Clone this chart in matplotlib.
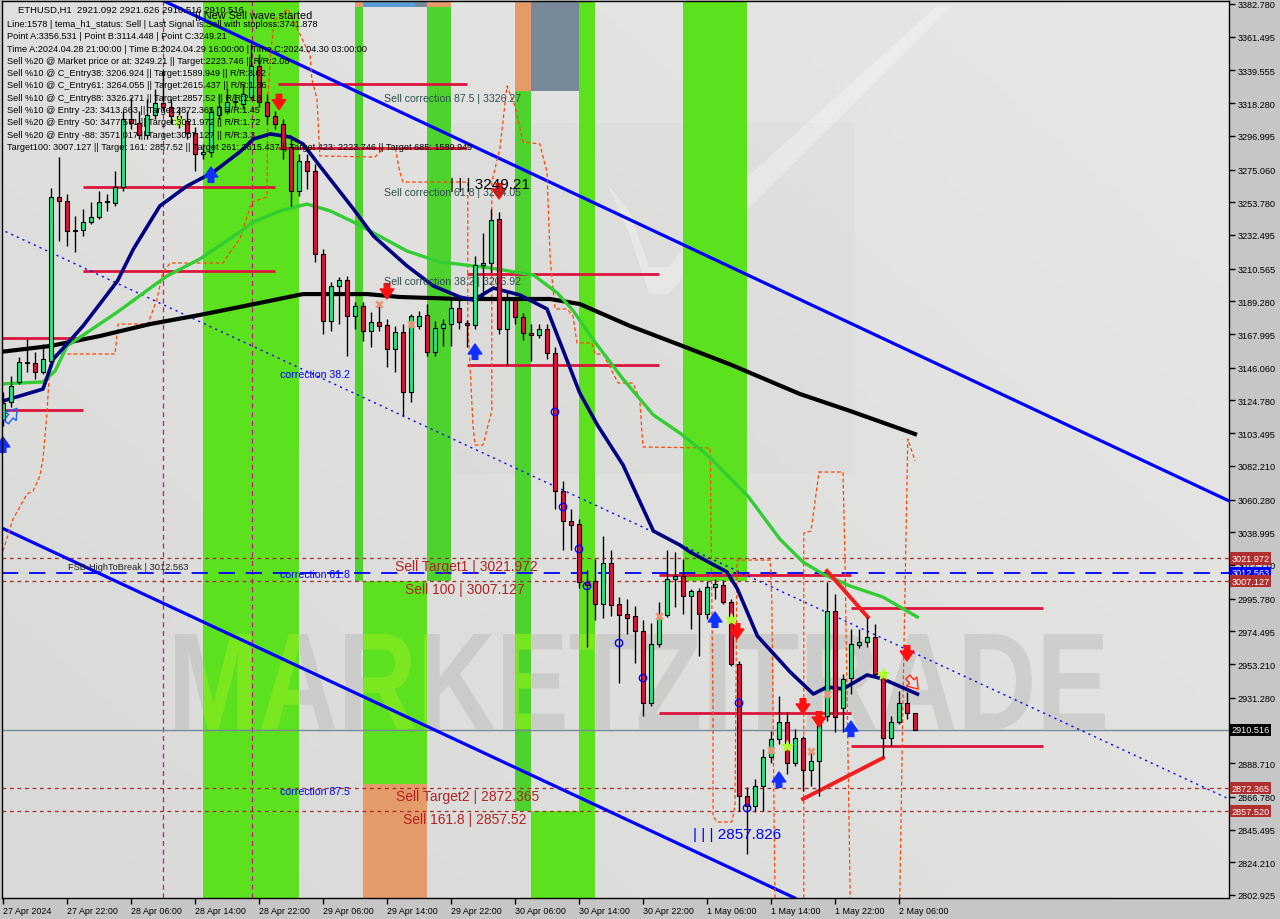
import numpy as np
import matplotlib
matplotlib.use('Agg')
import matplotlib.pyplot as plt
from matplotlib.patches import Rectangle, PathPatch, Polygon
from matplotlib.textpath import TextPath
from matplotlib.font_manager import FontProperties
from matplotlib.colors import LinearSegmentedColormap
import matplotlib.transforms as mtransforms

# ETHUSD H1 candles, first bar = 27 Apr 2024 14:00
opens = [3112.0, 3123.8, 3136.8, 3149.1, 3149.1, 3143.3, 3150.4, 3257.2, 3254.6, 3235.0,
         3235.7, 3240.9, 3244.2, 3253.9, 3253.3, 3263.7, 3307.9, 3305.3, 3297.5, 3310.5,
         3318.4, 3315.8, 3309.9, 3306.6, 3298.8, 3285.2, 3286.5, 3310.5, 3313.1, 3319.0,
         3317.7, 3322.3, 3342.4, 3319.0, 3309.9, 3304.7, 3289.7, 3261.1, 3280.6, 3274.1,
         3220.1, 3176.5, 3199.3, 3203.2, 3179.7, 3186.2, 3170.0, 3175.8, 3173.9, 3158.3,
         3169.3, 3130.3, 3173.2, 3180.4, 3156.3, 3171.9, 3174.5, 3184.9, 3175.2, 3173.9,
         3212.9, 3214.2, 3242.9, 3171.3, 3190.1, 3179.1, 3168.7, 3167.4, 3171.3, 3155.7,
         3065.9, 3046.3, 3044.4, 3006.6, 3007.3, 2992.3, 3019.0, 2992.3, 2985.8, 2984.5,
         2974.7, 2927.9, 2966.3, 2985.1, 3008.6, 3010.5, 2997.5, 3000.8, 2985.8, 3003.4,
         3004.7, 2993.6, 2953.2, 2867.3, 2860.9, 2873.9, 2892.7, 2904.4, 2915.5, 2888.8,
         2905.1, 2884.3, 2890.1, 2919.4, 2987.7, 2924.6, 2944.2, 2965.6, 2967.6, 2970.8,
         2946.7, 2905.1, 2915.5, 2927.9, 2921.1]
highs = [3130.0, 3140.7, 3153.0, 3164.8, 3156.3, 3161.5, 3263.0, 3283.2, 3259.1, 3244.8,
         3249.4, 3253.9, 3261.1, 3259.1, 3274.1, 3313.1, 3322.3, 3313.1, 3321.0, 3327.5,
         3340.5, 3321.0, 3316.0, 3313.1, 3302.7, 3291.7, 3315.8, 3324.2, 3327.5, 3324.2,
         3330.7, 3356.5, 3350.0, 3324.2, 3313.1, 3307.9, 3294.9, 3285.2, 3285.2, 3278.6,
         3223.3, 3201.9, 3205.1, 3205.8, 3188.8, 3188.8, 3182.3, 3186.2, 3177.8, 3173.2,
         3174.5, 3181.0, 3182.9, 3187.5, 3176.5, 3177.8, 3192.1, 3190.8, 3177.1, 3218.8,
         3233.7, 3249.2, 3247.4, 3194.7, 3192.1, 3181.7, 3174.5, 3174.5, 3174.5, 3159.6,
         3072.4, 3054.1, 3047.6, 3014.4, 3021.6, 3036.6, 3027.4, 2996.8, 2995.5, 2991.0,
         2981.9, 2980.0, 2993.6, 3027.4, 3026.1, 3021.6, 3002.0, 3002.7, 3007.3, 3008.6,
         3008.0, 2995.5, 2955.2, 2873.2, 2878.4, 2897.9, 2909.7, 2932.4, 2922.0, 2910.9,
         2906.4, 2896.0, 2917.4, 3006.6, 2998.8, 2947.0, 2976.0, 2976.0, 2983.8, 2979.3,
         2948.0, 2919.4, 2935.7, 2935.1, 2921.6]
lows = [3108.0, 3120.5, 3135.5, 3143.3, 3138.7, 3142.0, 3148.5, 3228.5, 3225.3, 3221.4,
        3231.8, 3239.6, 3242.9, 3248.1, 3251.3, 3261.1, 3301.4, 3294.9, 3294.9, 3307.9,
        3313.1, 3304.7, 3302.0, 3294.9, 3274.1, 3281.9, 3283.2, 3307.9, 3311.2, 3315.8,
        3314.5, 3321.0, 3315.8, 3304.7, 3301.4, 3281.9, 3251.3, 3257.8, 3262.4, 3214.9,
        3168.0, 3170.0, 3174.5, 3153.7, 3171.3, 3163.5, 3159.6, 3170.0, 3146.5, 3143.3,
        3114.4, 3123.8, 3171.3, 3153.7, 3153.7, 3160.2, 3160.2, 3171.3, 3159.6, 3171.3,
        3190.8, 3208.0, 3168.0, 3147.8, 3174.5, 3164.1, 3150.4, 3165.4, 3151.7, 3054.1,
        3027.4, 3027.4, 3002.7, 2964.3, 2981.9, 2983.2, 2984.5, 2940.9, 2972.8, 2953.9,
        2919.4, 2925.9, 2964.3, 2984.0, 2990.4, 2985.8, 2976.0, 2958.5, 2982.5, 2995.5,
        2992.3, 2951.9, 2857.6, 2829.6, 2856.9, 2857.6, 2889.0, 2901.0, 2881.7, 2886.8,
        2870.6, 2874.0, 2867.3, 2916.1, 2908.9, 2908.9, 2933.7, 2963.7, 2964.3, 2945.4,
        2892.7, 2900.0, 2914.2, 2917.4, 2910.5]
closes = [3123.0, 3134.2, 3149.8, 3149.8, 3143.3, 3151.7, 3257.2, 3254.6, 3235.0, 3235.7,
          3240.9, 3244.2, 3253.9, 3254.6, 3263.7, 3307.9, 3305.3, 3297.5, 3310.5, 3318.4,
          3315.8, 3309.9, 3306.6, 3298.8, 3285.2, 3286.5, 3312.5, 3315.8, 3319.0, 3319.7,
          3324.2, 3342.4, 3319.0, 3309.9, 3304.7, 3288.4, 3261.1, 3280.6, 3274.1, 3220.1,
          3176.5, 3199.3, 3203.2, 3179.7, 3186.2, 3170.0, 3175.8, 3173.2, 3158.3, 3169.3,
          3130.3, 3179.7, 3179.7, 3156.3, 3171.9, 3174.5, 3184.9, 3175.8, 3173.9, 3212.9,
          3214.2, 3242.2, 3171.3, 3190.1, 3179.1, 3168.7, 3167.4, 3171.3, 3155.7, 3065.9,
          3046.3, 3043.7, 3006.6, 3004.7, 2992.3, 3019.0, 2991.7, 2985.1, 2983.2, 2974.7,
          2927.9, 2966.3, 2983.2, 3008.6, 3010.5, 2997.5, 3000.8, 2985.8, 3003.4, 3005.3,
          2993.6, 2953.2, 2867.3, 2860.8, 2873.9, 2892.7, 2904.4, 2915.5, 2888.8, 2905.1,
          2884.3, 2890.1, 2914.2, 2987.7, 2918.7, 2943.5, 2966.3, 2967.6, 2970.8, 2946.7,
          2905.1, 2915.5, 2927.9, 2921.4, 2910.516]

tick_idx = list(range(0, 113, 8))
tick_labels = ['27 Apr 2024', '27 Apr 22:00', '28 Apr 06:00', '28 Apr 14:00', '28 Apr 22:00',
               '29 Apr 06:00', '29 Apr 14:00', '29 Apr 22:00', '30 Apr 06:00', '30 Apr 14:00',
               '30 Apr 22:00', '1 May 06:00', '1 May 14:00', '1 May 22:00', '2 May 06:00']
price_ticks = [3382.780, 3361.495, 3339.555, 3318.280, 3296.995, 3275.060, 3253.780, 3232.495,
               3210.565, 3189.280, 3167.995, 3146.060, 3124.780, 3103.495, 3082.210, 3060.280,
               3038.995, 3017.710, 2995.780, 2974.495, 2953.210, 2931.280, 2888.710, 2866.780,
               2845.495, 2824.210, 2802.925]

# moving averages, read at bar positions
black_ma_x = [-0.4, 5.9, 12.1, 18.4, 24.6, 29.6, 37.5, 45.5, 49.6, 57.1, 68.4, 72.1, 78.4, 84.6, 91.0,
              99.6, 105.9, 114]
black_ma_y = [3156.3, 3160.2, 3166.7, 3174.5, 3180.4, 3185.6, 3194.0, 3194.0, 3192.1, 3190.8, 3190.8, 3187.5,
              3173.2, 3160.9, 3148.0, 3129.0, 3117.9, 3102.9]
green_ma_x = [-0.4, 5, 6.5, 8, 14.3, 20.5, 24.6, 29.6, 31.3, 34.6, 38, 40.9, 43.8, 50.5, 54.6, 60.9, 66.3,
              69.3, 71.3, 73.8, 77.5, 81.3, 84.6, 87.9, 93.1, 97.1, 100, 102.5, 105.9, 110, 114.3]
green_ma_y = [3135.5, 3136.8, 3143.9, 3160.2, 3182.3, 3205.8, 3216.8, 3234.4, 3240.9, 3248.1, 3252.6, 3248.1,
              3240.9, 3222.0, 3214.9, 3211.0, 3206.4, 3194.7, 3183.0, 3164.1, 3138.7, 3115.3, 3103.6, 3089.9,
              3062.6, 3034.6, 3019.6, 3011.8, 3004.0, 2996.8, 2983.8]
navy_ma_x = [-0.4, 5, 6.3, 10, 14.3, 16.3, 19.6, 23, 26.3, 29.6, 31.3, 33.4, 35.9, 37.5, 39.6, 43.8, 46.3,
             50.5, 53.8, 57.1, 58.8, 61.3, 64.6, 68, 72.1, 74.3, 77.5, 81.3, 84.6, 85.9, 90.5, 91.8, 94.3,
             98.4, 101.3, 103, 105, 108, 110, 114.3]
navy_ma_y = [3123.8, 3132.2, 3151.7, 3173.2, 3202.5, 3223.3, 3251.3, 3264.3, 3273.4, 3286.5, 3294.9, 3298.2,
             3296.2, 3291.7, 3277.4, 3249.4, 3231.8, 3212.3, 3199.3, 3192.1, 3190.1, 3197.9, 3193.4, 3184.3,
             3129.6, 3108.8, 3082.8, 3039.8, 3030.7, 3026.1, 3013.1, 3002.1, 2971.5, 2948.0, 2933.7, 2938.3,
             2937.0, 2946.1, 2943.5, 2933.7]

# dashed stop band (nan splits pieces)
stop_x = [0, 1.25, 3, 3.75, 4.6, 5, 5.5, 5.75, 5.9, 14, 14.4, 18.1, 19.25, 20, 20.9, 27.5, 28.4, 29.6, 31.1,
          33, 33.1, 33.4, 33.9, 35.6, 37.1, 38.4, 38.6, 39.25, 39.6, 46.5, 47.5, 49, 49.6, 50, 58.1, 58.1,
          58.75, 59, 60, 61.1, 61.1, 62.1, 63, 64, 65, 67.1, 68, 68.4, 69, 70.5, 71.25, 71.75, 73.6, 74, 75,
          76.9, 78.75, 79.6, 80, 88.4, 88.75, 88.75, 89.25, 91.1, 91.5, 91.75, 95.9, 96.1, 96.5, np.nan,
          100.1, 100.1, 101, 102, 105, 105.25, 105.9, np.nan, 112.1, 112.5, 113.1, 114]
stop_y = [3026.8, 3047.6, 3063.9, 3065.8, 3075.6, 3086.7, 3117.3, 3138.7, 3155.0, 3155.0, 3174.5, 3174.5,
          3190.8, 3208.3, 3214.2, 3214.2, 3221.4, 3229.8, 3253.9, 3257.2, 3320.9, 3347.0, 3372.0, 3379.5,
          3363.2, 3348.9, 3334.0, 3320.9, 3283.9, 3283.2, 3288.4, 3289.7, 3273.4, 3266.9, 3266.9, 3175.8,
          3108.8, 3095.8, 3095.8, 3117.9, 3266.9, 3288.4, 3329.4, 3316.4, 3293.0, 3291.7, 3273.4, 3216.8,
          3184.3, 3184.3, 3179.7, 3162.2, 3162.2, 3155.0, 3155.0, 3136.1, 3136.1, 3125.1, 3094.5, 3093.8,
          2925.9, 2854.3, 2850.4, 2850.4, 2860.8, 3020.9, 3020.9, 2995.5, 2801.0, np.nan,
          2801.0, 3038.5, 3039.8, 3078.2, 3078.2, 3021.6, 2801.0, np.nan, 2801.0, 2930.5, 3099.7, 3085.4]

# channel and trend lines
chan_up_x, chan_up_y = [19.6, 153.25], [3386.0, 3059.4]
chan_dn_x, chan_dn_y = [-0.4, 99.0], [3042.4, 2800.9]
dot_x, dot_y = [-0.4, 153.25], [3236.4, 2865.4]

# horizontal zone segments: start bar, end bar, price
seg_start = [34.4, 34.4, 10, 10, -0.2, -0.2, 58, 58, 82, 82, 106, 106]
seg_end = [58, 58, 34, 34, 10, 10, 82, 82, 106, 106, 130, 130]
seg_price = [3330.7, 3289.0, 3263.7, 3209.0, 3165.4, 3118.6, 3206.9, 3147.8, 3011.2, 2921.4, 2989.7, 2899.9]

# thick red trend pieces
diag_x = [[100, 110], [103, 108.1]]
diag_y = [[2865.4, 2892.1], [3013.8, 2983.8]]

# levels
fsb_level = 3012.563
target_levels = [3021.972, 3007.127, 2872.365, 2857.520]
last_price = 2910.516

# background zones: start bar, end bar, low price, high price, colour
zone_green = '#5CE11F'
zone_dark = '#4ED22E'
zone_orange = '#E59A6A'
zone_slate = '#778899'
zones = [
    (25, 37, 2800, 3390, zone_green),
    (44, 45, 3007.127, 3380.8, zone_dark),
    (45, 53, 2875.0, 3007.127, zone_green),
    (45, 53, 2800, 2875.0, zone_orange),
    (53, 56, 3007.127, 3380.8, zone_dark),
    (64, 66, 2857.52, 3326.27, zone_dark),
    (64, 66, 3326.27, 3390, zone_orange),
    (66, 72, 3326.27, 3390, zone_slate),
    (66, 74, 2800, 2857.52, zone_green),
    (72, 74, 2800, 3390, zone_green),
    (85, 93, 3007.127, 3390, zone_green),
    (44, 45, 3380.8, 3390, zone_orange),
    (45, 51.5, 3380.8, 3390, '#5B9BD5'),
    (51.5, 53, 3380.8, 3390, zone_slate),
    (53, 56, 3380.8, 3390, zone_orange),
]

# signal markers
up_arrow_x = [0, 26, 59, 89, 97, 106]
up_arrow_y = [3101.0, 3276.7, 3161.5, 2987.1, 2883.0, 2916.1]
down_arrow_x = [34.5, 48, 62, 91.75, 100, 102, 113]
down_arrow_y = [3314.0, 3190.8, 3255.9, 2969.5, 2920.7, 2912.2, 2955.2]
circle_x = [69, 70, 72, 73, 77, 80, 92, 93]
circle_y = [3117.3, 3055.4, 3028.1, 3004.0, 2966.9, 2944.1, 2927.9, 2859.5]
star_x = [22, 91, 98, 110]
star_y = [3306.6, 2982.5, 2899.9, 2946.7]
cross_x = [47, 51, 82, 96, 101, 103]
cross_y = [3187.5, 3174.5, 2984.5, 2897.3, 2896.6, 2933.7]

header_lines = [
    'Line:1578 | tema_h1_status: Sell | Last Signal is:Sell with stoploss:3741.878',
    'Point A:3356.531 | Point B:3114.448 | Point C:3249.21',
    'Time A:2024.04.28 21:00:00 | Time B:2024.04.29 16:00:00 | Time C:2024.04.30 03:00:00',
    'Sell %20 @ Market price or at: 3249.21 || Target:2223.746 || R/R:2.08',
    'Sell %10 @ C_Entry38: 3206.924 || Target:1589.949 || R/R:3.02',
    'Sell %10 @ C_Entry61: 3264.055 || Target:2615.437 || R/R:1.36',
    'Sell %10 @ C_Entry88: 3326.271 || Target:2857.52 || R/R:2.13',
    'Sell %10 @ Entry -23: 3413.663 || Target:2872.365 || R/R:1.45',
    'Sell %20 @ Entry -50: 3477.571 || Target:3021.972 || R/R:1.72',
    'Sell %20 @ Entry -88: 3571.017 || Target:3007.127 || R/R:3.3',
    'Target100: 3007.127 || Target 161: 2857.52 || Target 261: 2615.437 || Target 423: 2223.746 || Target 685: 1589.949',
]

FONT = 'Liberation Sans'
plt.rcParams['font.family'] = [FONT, 'DejaVu Sans']

W, H = 1280, 920
fig = plt.figure(figsize=(W / 100, H / 100), dpi=100, facecolor='#C6C6C6')
ax = fig.add_axes([2 / W, 21 / H, 1227 / W, 897 / H])
ax.set_facecolor('#DCDCDA')
ax.set_xlim(-0.125, 153.25)
ax.set_ylim(2800.96, 3384.73)


def px(xp, yp):
    # screen pixel of the reference -> axes fraction
    return ((xp - 2) / 1227, (899 - yp) / 897)


# soft background gradient + faint logo
gx, gy = np.meshgrid(np.linspace(0, 1, 200), np.linspace(0, 1, 200))
grad = 0.55 * gx + 0.45 * gy
bg_cmap = LinearSegmentedColormap.from_list('bg', ['#D9D9D7', '#E7E7E5'])
ax.imshow(grad, extent=(0, 1, 0, 1), transform=ax.transAxes, cmap=bg_cmap, origin='lower',
          aspect='auto', zorder=0)
lx0, ly0 = px(434, 475)
lx1, ly1 = px(855, 124)
ax.add_patch(Rectangle((lx0, ly0), lx1 - lx0, ly1 - ly0, transform=ax.transAxes,
                       facecolor='#CBCBCB', edgecolor='none', alpha=0.16, zorder=0.2))
swoosh = [px(607, 184), px(630, 237), px(649, 295), px(668, 295), px(744, 214), px(951, 8),
          px(936, 8), px(733, 191), px(668, 268), px(649, 268), px(630, 214)]
ax.add_patch(Polygon(swoosh, closed=True, transform=ax.transAxes, facecolor='white',
                     edgecolor='none', alpha=0.3, zorder=0.2))

# zones
zone_patches = []
for x0, x1, lo, hi, col in zones:
    r = Rectangle((x0, lo), x1 - x0, hi - lo, facecolor=col, edgecolor='none', zorder=0.5)
    ax.add_patch(r)
    if col in (zone_green, zone_dark):
        zone_patches.append(r)

# watermark
tp = TextPath((0, 0), 'MARKETZITRADE', prop=FontProperties(family=FONT, weight='bold'), size=100)
bb = tp.get_extents()
wx0, wy0 = px(175, 730)
wx1, wy1 = px(1105, 635)
tr = mtransforms.Affine2D().translate(-bb.x0, -bb.y0).scale((wx1 - wx0) / bb.width, (wy1 - wy0) / bb.height) \
    .translate(wx0, wy0) + ax.transAxes
ax.add_patch(PathPatch(tp, transform=tr, facecolor='#B4B4B4', edgecolor='none', alpha=0.42, zorder=1))
for r in zone_patches:
    lime = PathPatch(tp, transform=tr, facecolor='#78F00A', edgecolor='none', alpha=0.75, zorder=1.1)
    ax.add_patch(lime)
    lime.set_clip_path(r)

# magenta time markers (point A area)
for xv in [20, 31.1]:
    ax.axvline(xv, color='#C71585', lw=0.9, ls=(0, (4, 3)), zorder=1.5)

# levels
for lv in target_levels:
    ax.axhline(lv, color='#A52A2A', lw=0.9, ls=(0, (3, 3)), zorder=1.6)
ax.axhline(fsb_level, color='#0000FF', lw=1.3, ls=(0, (9, 6)), zorder=1.7)
ax.axhline(last_price, color='#778899', lw=1.0, zorder=1.6)

# zone segments
for s0, s1, pv in zip(seg_start, seg_end, seg_price):
    ax.plot([s0, s1], [pv, pv], color='#DC143C', lw=2.0, solid_capstyle='butt', zorder=2)

# channel
ax.plot(chan_up_x, chan_up_y, color='#0000FF', lw=2.3, zorder=2.2)
ax.plot(chan_dn_x, chan_dn_y, color='#0000FF', lw=2.3, zorder=2.2)
ax.plot(dot_x, dot_y, color='#0000FF', lw=1.0, ls=(0, (1.5, 3)), zorder=2.2)

# stop band
ax.plot(stop_x, stop_y, color='#FF4500', lw=0.9, ls=(0, (3, 2)), zorder=2.3)

# moving averages
ax.plot(black_ma_x, black_ma_y, color='black', lw=3.0, zorder=3)
ax.plot(green_ma_x, green_ma_y, color='#32CD32', lw=2.4, zorder=3)
ax.plot(navy_ma_x, navy_ma_y, color='#000080', lw=2.6, zorder=3.1)

for dx, dy in zip(diag_x, diag_y):
    ax.plot(dx, dy, color='#F01E1E', lw=2.8, zorder=3.2)

# candles
idx = np.arange(len(opens))
o = np.array(opens)
c = np.array(closes)
ax.vlines(idx, lows, highs, color='black', lw=1.0, zorder=4)
bull = c >= o
body_lo = np.minimum(o, c)
body_h = np.maximum(np.abs(c - o), 0.6)
ax.bar(idx[bull], body_h[bull], bottom=body_lo[bull], width=0.62, color='#1FE67E',
       edgecolor='black', linewidth=0.8, zorder=5)
ax.bar(idx[~bull], body_h[~bull], bottom=body_lo[~bull], width=0.62, color='#DC143C',
       edgecolor='black', linewidth=0.8, zorder=5)

# signal markers
arrow_len = 10.0
astyle = 'simple,head_width=1.1,head_length=0.8,tail_width=0.45'
for xv, yv in zip(up_arrow_x, up_arrow_y):
    ax.annotate('', xy=(xv, yv), xytext=(xv, yv - arrow_len),
                arrowprops=dict(arrowstyle=astyle, fc='#1030FF', ec='#1030FF', mutation_scale=9,
                                shrinkA=0, shrinkB=0), zorder=6)
for xv, yv in zip(down_arrow_x, down_arrow_y):
    ax.annotate('', xy=(xv, yv), xytext=(xv, yv + arrow_len),
                arrowprops=dict(arrowstyle=astyle, fc='#FF1010', ec='#FF1010', mutation_scale=9,
                                shrinkA=0, shrinkB=0), zorder=6)
# hollow diagonal arrows
ax.annotate('', xy=(1.75, 3119.6), xytext=(0.4, 3110.7),
            arrowprops=dict(arrowstyle=astyle, fc='none', ec='#1E60FF', lw=1.0, mutation_scale=9,
                            shrinkA=0, shrinkB=0), zorder=6)
ax.annotate('', xy=(114.4, 2936.9), xytext=(113.1, 2944.8),
            arrowprops=dict(arrowstyle=astyle, fc='none', ec='#FF3010', lw=1.0, mutation_scale=9,
                            shrinkA=0, shrinkB=0), zorder=6)
ax.scatter(circle_x, circle_y, s=28, facecolors='none', edgecolors='#0000FF', linewidths=1.0, zorder=6)
ax.scatter(star_x, star_y, s=70, marker='*', color='#ADFF2F', zorder=6)
ax.scatter(cross_x, cross_y, s=22, marker='x', color='#E9967A', linewidths=2.0, zorder=6)

# chart labels
slate = '#2F4F4F'
ax.text(47.6, 3321.6, 'Sell correction 87.5 | 3326.27', color=slate, fontsize=7.6, va='center', zorder=7)
ax.text(47.6, 3260.4, 'Sell correction 61.8 | 3264.05', color=slate, fontsize=7.6, va='center', zorder=7)
ax.text(47.6, 3202.5, 'Sell correction 38.2 | 3206.92', color=slate, fontsize=7.6, va='center', zorder=7)
ax.text(55.9, 3265.6, '| | | 3249.21', color='black', fontsize=11, va='center', zorder=7)
ax.text(34.6, 3142.0, 'correction 38.2', color='#0000FF', fontsize=7.6, va='center', zorder=7)
ax.text(34.6, 3011.8, 'correction 61.8', color='#0000FF', fontsize=7.6, va='center', zorder=7)
ax.text(34.6, 2870.6, 'correction 87.5', color='#0000FF', fontsize=7.6, va='center', zorder=7)
ax.text(8.1, 3016.4, 'FSB-HighToBreak | 3012.563', color='#222222', fontsize=6.7, va='center', zorder=7)
red_txt = '#B22222'
ax.text(49.0, 3017.0, 'Sell Target1 | 3021.972', color=red_txt, fontsize=10, va='center', zorder=7)
ax.text(50.25, 3002.1, 'Sell 100 | 3007.127', color=red_txt, fontsize=10, va='center', zorder=7)
ax.text(49.1, 2867.3, 'Sell Target2 | 2872.365', color=red_txt, fontsize=10, va='center', zorder=7)
ax.text(50.0, 2852.4, 'Sell 161.8 | 2857.52', color=red_txt, fontsize=10, va='center', zorder=7)
ax.text(86.25, 2842.6, '| | | 2857.826', color='#0000FF', fontsize=11, va='center', zorder=7)

# axes styling
for sp in ax.spines.values():
    sp.set_color('black')
    sp.set_linewidth(1.0)
    sp.set_zorder(8)
ax.yaxis.tick_right()
ax.set_yticks(price_ticks)
ax.set_yticklabels([f'{v:.3f}' for v in price_ticks])
ax.tick_params(axis='y', direction='out', length=4, width=1, pad=2, labelsize=6.6, colors='black')
ax.set_xticks(tick_idx)
ax.set_xticklabels(tick_labels, ha='left')
ax.tick_params(axis='x', direction='out', length=4, width=1, pad=2, labelsize=6.4, colors='black')

ytr = ax.get_yaxis_transform()
box_levels = [(3021.972, '#B03030'), (fsb_level, '#0000FF'), (3007.127, '#B03030'),
              (last_price, '#000000'), (2872.365, '#B03030'), (2857.520, '#B03030')]
for lv, bg in box_levels:
    ax.text(1.0018, lv, f'{lv:.3f}', transform=ytr, ha='left', va='center', fontsize=6.6,
            color='white', clip_on=False, zorder=10,
            bbox=dict(boxstyle='square,pad=0.18', facecolor=bg, edgecolor='none'))

# header block
fig.text(18 / W, 1 - 10 / H, 'ETHUSD,H1  2921.092 2921.626 2910.516 2910.516', fontsize=6.8,
         va='center', color='black')
fig.text(195 / W, 1 - 16 / H, '|| New Sell wave started', fontsize=7.8, va='center', color='black')
for k, line in enumerate(header_lines):
    fig.text(7 / W, 1 - (24.5 + 12.3 * k) / H, line, fontsize=6.6, va='center', color='black')

fig.savefig('out.png', dpi=100, facecolor=fig.get_facecolor())
